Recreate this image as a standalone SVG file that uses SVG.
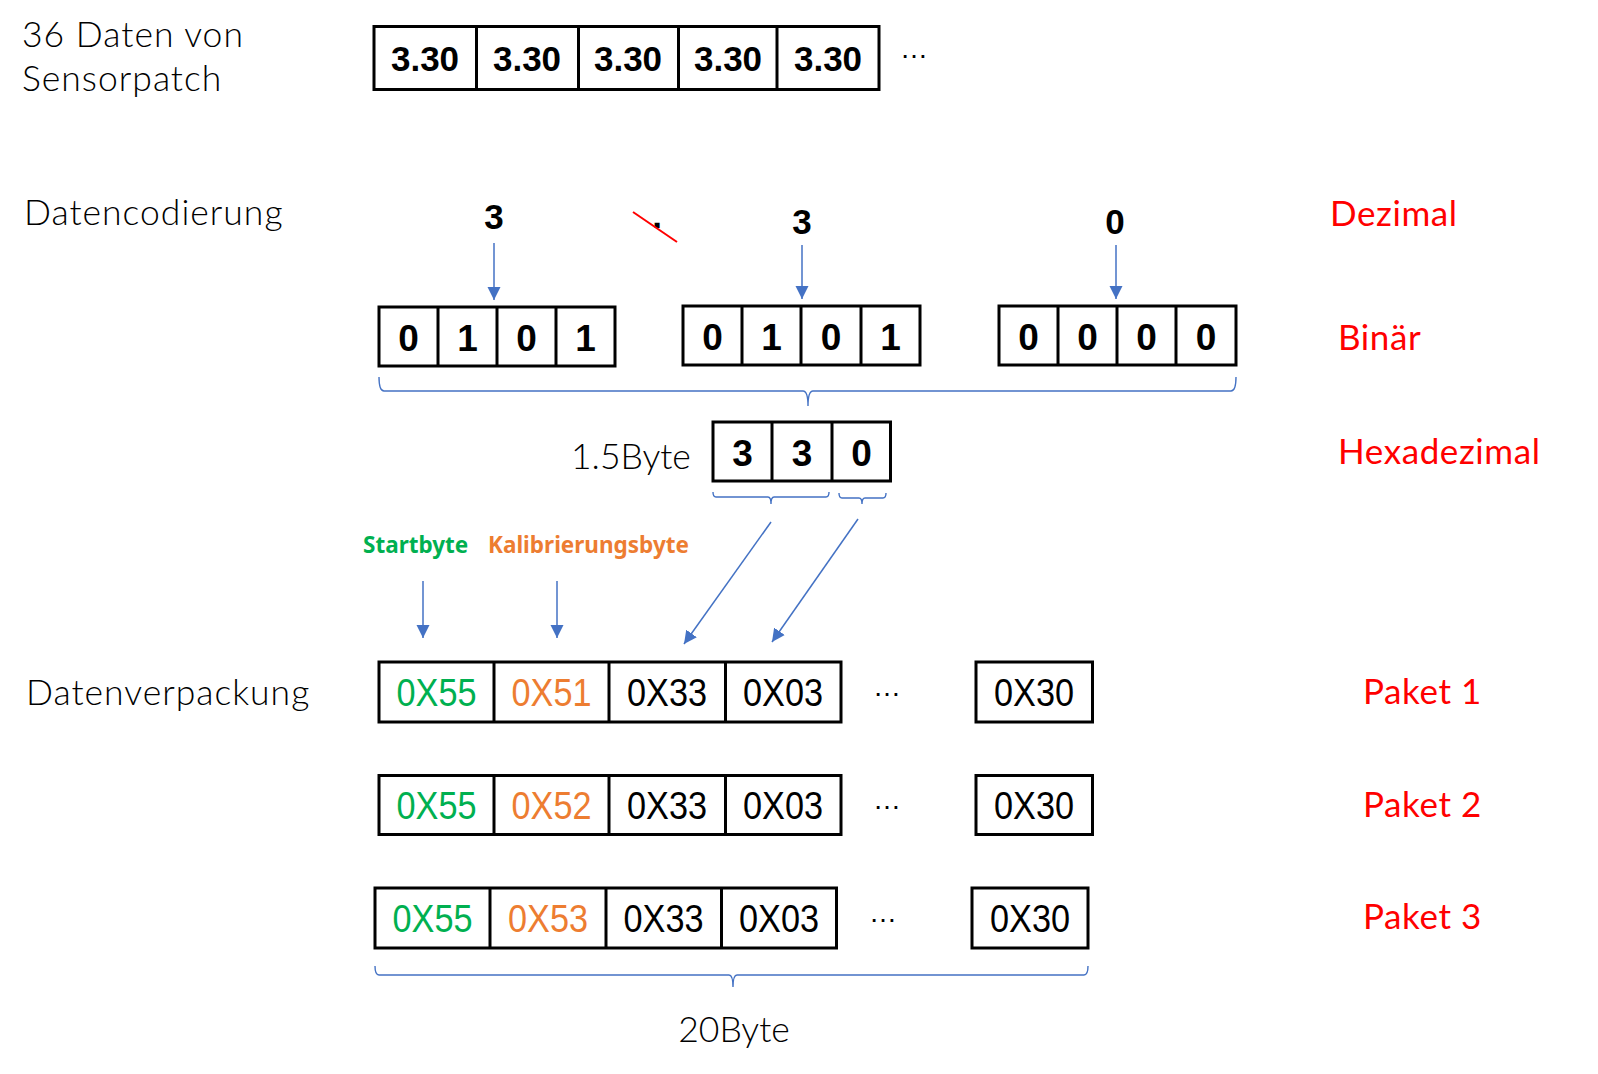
<svg xmlns="http://www.w3.org/2000/svg" width="1598" height="1074" viewBox="0 0 1598 1074">
<defs>
<style>
.lbl{font-family:Lato,"Noto Sans","Liberation Sans",sans-serif;font-weight:300;font-size:35.5px;letter-spacing:1px;fill:#000}
.red{font-family:Lato,"Noto Sans","Liberation Sans",sans-serif;font-weight:400;font-size:35px;letter-spacing:0.6px;fill:#FF0000}
.box{fill:#fff;stroke:#000;stroke-width:3}
.div{stroke:#000;stroke-width:3}
.bd{font-family:"Liberation Sans",Arial,sans-serif;font-weight:bold;font-size:35px;text-anchor:middle;fill:#000}
.bg{font-size:37px}
.hx{font-family:"Liberation Sans",Arial,sans-serif;font-size:38px;text-anchor:middle;fill:#000}
.g{fill:#00B050}
.o{fill:#ED7D31}
.tag{font-family:"Noto Sans","Liberation Sans",sans-serif;font-weight:bold;font-size:22.5px}
.el{font-family:"Liberation Sans",Arial,sans-serif;font-size:28px;text-anchor:middle;fill:#000}
.ar{stroke:#4472C4;stroke-width:1.5;fill:none}
.br{stroke:#4472C4;stroke-width:1.4;fill:none}
</style>
<marker id="ah" markerUnits="userSpaceOnUse" markerWidth="14" markerHeight="14" viewBox="0 0 14 14" refX="13" refY="7" orient="auto">
<path d="M0,0.5 L13,7 L0,13.5 Z" fill="#4472C4"/>
</marker>
</defs>

<g id="labels">
<text class="lbl" x="22" y="47">36 Daten von</text>
<text class="lbl" x="22" y="91">Sensorpatch</text>
<text class="lbl" x="24" y="225">Datencodierung</text>
<text class="lbl" x="26" y="705">Datenverpackung</text>
<text class="lbl" x="571" y="469" style="letter-spacing:0">1.5Byte</text>
<text class="lbl" x="734" y="1042" text-anchor="middle" style="letter-spacing:0">20Byte</text>
<text class="red" x="1330" y="226">Dezimal</text>
<text class="red" x="1338" y="350">Binär</text>
<text class="red" x="1338" y="464">Hexadezimal</text>
<text class="red" x="1363" y="704">Paket 1</text>
<text class="red" x="1363" y="817">Paket 2</text>
<text class="red" x="1363" y="929">Paket 3</text>
<text class="tag g" x="363" y="553">Startbyte</text>
<text class="tag o" x="488" y="553">Kalibrierungsbyte</text>
</g>

<g id="sensordata">
<rect class="box" x="374" y="26.5" width="505" height="63"/>
<line class="div" x1="476.5" y1="26.5" x2="476.5" y2="89.5"/>
<line class="div" x1="578.5" y1="26.5" x2="578.5" y2="89.5"/>
<line class="div" x1="678.5" y1="26.5" x2="678.5" y2="89.5"/>
<line class="div" x1="777" y1="26.5" x2="777" y2="89.5"/>
<text class="bd" x="425" y="71">3.30</text>
<text class="bd" x="527" y="71">3.30</text>
<text class="bd" x="628" y="71">3.30</text>
<text class="bd" x="728" y="71">3.30</text>
<text class="bd" x="828" y="71">3.30</text>
<text class="el" x="914" y="58">…</text>
</g>

<g id="decimal">
<text class="bd" x="494" y="229">3</text>
<text class="bd" x="802" y="234">3</text>
<text class="bd" x="1115" y="234">0</text>
<text class="bd" x="657" y="228">.</text>
<line x1="633" y1="212" x2="677" y2="242" stroke="#FF0000" stroke-width="2"/>
</g>

<g id="binary1">
<rect class="box" x="379" y="307" width="236" height="59"/>
<line class="div" x1="438" y1="307" x2="438" y2="366"/>
<line class="div" x1="497" y1="307" x2="497" y2="366"/>
<line class="div" x1="556" y1="307" x2="556" y2="366"/>
<text class="bd bg" x="408.5" y="351">0</text>
<text class="bd bg" x="467.5" y="351">1</text>
<text class="bd bg" x="526.5" y="351">0</text>
<text class="bd bg" x="585.5" y="351">1</text>
</g>
<g id="binary2">
<rect class="box" x="683" y="306" width="237" height="59"/>
<line class="div" x1="742" y1="306" x2="742" y2="365"/>
<line class="div" x1="801" y1="306" x2="801" y2="365"/>
<line class="div" x1="861" y1="306" x2="861" y2="365"/>
<text class="bd bg" x="712.5" y="350">0</text>
<text class="bd bg" x="771.5" y="350">1</text>
<text class="bd bg" x="831" y="350">0</text>
<text class="bd bg" x="890.5" y="350">1</text>
</g>
<g id="binary3">
<rect class="box" x="999" y="306" width="237" height="59"/>
<line class="div" x1="1058" y1="306" x2="1058" y2="365"/>
<line class="div" x1="1117" y1="306" x2="1117" y2="365"/>
<line class="div" x1="1176" y1="306" x2="1176" y2="365"/>
<text class="bd bg" x="1028.5" y="350">0</text>
<text class="bd bg" x="1087.5" y="350">0</text>
<text class="bd bg" x="1146.5" y="350">0</text>
<text class="bd bg" x="1206" y="350">0</text>
</g>

<g id="hex">
<rect class="box" x="713" y="422" width="177.5" height="59"/>
<line class="div" x1="772" y1="422" x2="772" y2="481"/>
<line class="div" x1="832" y1="422" x2="832" y2="481"/>
<text class="bd bg" x="742.5" y="466">3</text>
<text class="bd bg" x="802" y="466">3</text>
<text class="bd bg" x="861.5" y="466">0</text>
</g>

<g id="packet1">
<rect class="box" x="379" y="662" width="462" height="60"/>
<line class="div" x1="494" y1="662" x2="494" y2="722"/>
<line class="div" x1="609" y1="662" x2="609" y2="722"/>
<line class="div" x1="725.5" y1="662" x2="725.5" y2="722"/>
<text class="hx g" x="436.5" y="706" textLength="80" lengthAdjust="spacingAndGlyphs">0X55</text>
<text class="hx o" x="551.5" y="706" textLength="80" lengthAdjust="spacingAndGlyphs">0X51</text>
<text class="hx" x="667" y="706" textLength="80" lengthAdjust="spacingAndGlyphs">0X33</text>
<text class="hx" x="783" y="706" textLength="80" lengthAdjust="spacingAndGlyphs">0X03</text>
<text class="el" x="887" y="696">…</text>
<rect class="box" x="976" y="662" width="116.5" height="60"/>
<text class="hx" x="1034" y="706" textLength="80" lengthAdjust="spacingAndGlyphs">0X30</text>
</g>
<g id="packet2">
<rect class="box" x="379" y="775.5" width="462" height="59"/>
<line class="div" x1="494" y1="775.5" x2="494" y2="834.5"/>
<line class="div" x1="609" y1="775.5" x2="609" y2="834.5"/>
<line class="div" x1="725.5" y1="775.5" x2="725.5" y2="834.5"/>
<text class="hx g" x="436.5" y="819" textLength="80" lengthAdjust="spacingAndGlyphs">0X55</text>
<text class="hx o" x="551.5" y="819" textLength="80" lengthAdjust="spacingAndGlyphs">0X52</text>
<text class="hx" x="667" y="819" textLength="80" lengthAdjust="spacingAndGlyphs">0X33</text>
<text class="hx" x="783" y="819" textLength="80" lengthAdjust="spacingAndGlyphs">0X03</text>
<text class="el" x="887" y="809">…</text>
<rect class="box" x="976" y="775.5" width="116.5" height="59"/>
<text class="hx" x="1034" y="819" textLength="80" lengthAdjust="spacingAndGlyphs">0X30</text>
</g>
<g id="packet3">
<rect class="box" x="375" y="888" width="461.5" height="60"/>
<line class="div" x1="490" y1="888" x2="490" y2="948"/>
<line class="div" x1="606" y1="888" x2="606" y2="948"/>
<line class="div" x1="721.5" y1="888" x2="721.5" y2="948"/>
<text class="hx g" x="432.5" y="932" textLength="80" lengthAdjust="spacingAndGlyphs">0X55</text>
<text class="hx o" x="548" y="932" textLength="80" lengthAdjust="spacingAndGlyphs">0X53</text>
<text class="hx" x="663.5" y="932" textLength="80" lengthAdjust="spacingAndGlyphs">0X33</text>
<text class="hx" x="779" y="932" textLength="80" lengthAdjust="spacingAndGlyphs">0X03</text>
<text class="el" x="883" y="922">…</text>
<rect class="box" x="972" y="888" width="116" height="60"/>
<text class="hx" x="1030" y="932" textLength="80" lengthAdjust="spacingAndGlyphs">0X30</text>
</g>

<g id="connectors">
<line class="ar" x1="494" y1="243" x2="494" y2="300" marker-end="url(#ah)"/>
<line class="ar" x1="802" y1="245" x2="802" y2="299" marker-end="url(#ah)"/>
<line class="ar" x1="1116" y1="245" x2="1116" y2="299" marker-end="url(#ah)"/>
<line class="ar" x1="423" y1="581" x2="423" y2="638" marker-end="url(#ah)"/>
<line class="ar" x1="557" y1="581" x2="557" y2="638" marker-end="url(#ah)"/>
<line class="ar" x1="771" y1="522" x2="684" y2="644" marker-end="url(#ah)"/>
<line class="ar" x1="858" y1="519" x2="772" y2="642" marker-end="url(#ah)"/>
<path class="br" d="M379,377 Q379,391 384,391 L803,391 Q808,391 808,406 Q808,391 813,391 L1231,391 Q1236,391 1236,377"/>
<path class="br" d="M713,492 Q713,497 716,497 L768,497 Q771,497 771,504 Q771,497 774,497 L826,497 Q829,497 829,492"/>
<path class="br" d="M839,493 Q839,498 842,498 L859,498 Q862,498 862,504 Q862,498 865,498 L883,498 Q886,498 886,493"/>
<path class="br" d="M375,966 Q375,975 379,975 L729,975 Q733,975 733,987 Q733,975 737,975 L1084,975 Q1088,975 1088,966"/>
</g>
</svg>
